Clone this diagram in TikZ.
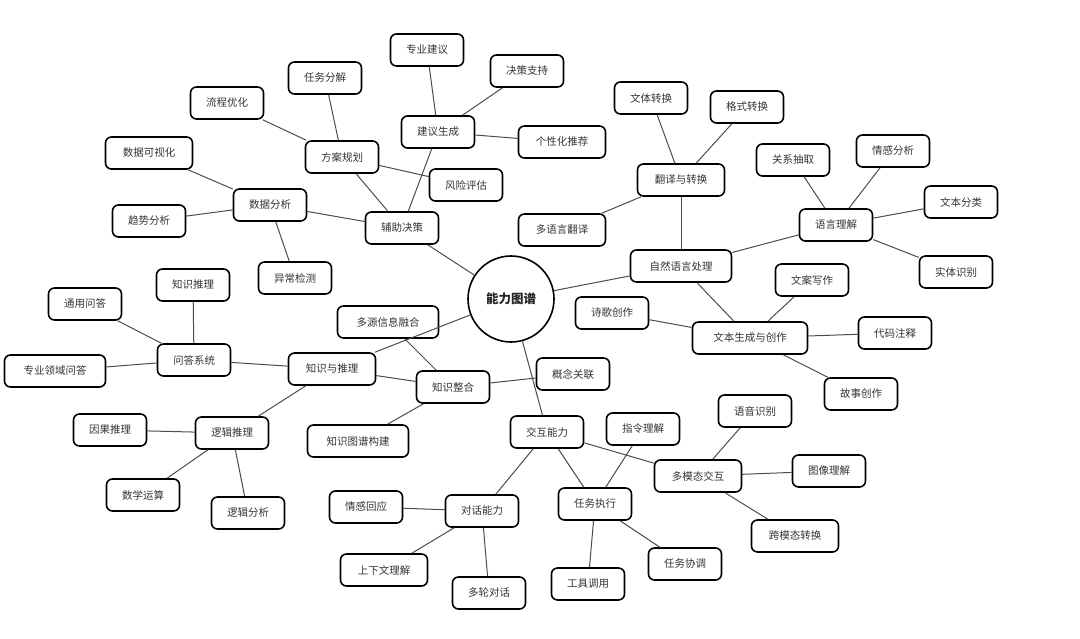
\documentclass[tikz,border=0pt]{standalone}
\usepackage{fontspec}
\newfontfamily\cjk{Noto Sans CJK SC}
\begin{document}
\begin{tikzpicture}[x=1pt,y=-1pt,
  box/.style={draw=black,line width=1.6pt,rounded corners=6pt,minimum height=32pt,inner xsep=2pt,inner ysep=0pt,text=black!80,font=\cjk\fontsize{10.5}{12}\selectfont,minimum width=73pt},
  w5/.style={minimum width=87pt},
  w6/.style={minimum width=101pt},
  w7/.style={minimum width=115pt},
  hub/.style={draw=black,line width=1.6pt,circle,minimum size=86pt,inner sep=0pt,text=black!85,font=\cjk\fontsize{12.5}{14}\selectfont\bfseries},
  link/.style={draw=black!70,line width=1pt}]
\useasboundingbox (0,0) rectangle (1080,639);
\node[hub] (root) at (511,299) {能力图谱};
% auxiliary decision
\node[box] (fz) at (402,228) {辅助决策};
\node[box] (sjfx) at (270,205) {数据分析};
\node[box,w5] (sjksh) at (149,153) {数据可视化};
\node[box] (qsfx) at (149,221) {趋势分析};
\node[box] (ycjc) at (295,278) {异常检测};
\node[box] (fagh) at (342,157) {方案规划};
\node[box] (lcyh) at (227,103) {流程优化};
\node[box] (rwfj) at (325,78) {任务分解};
\node[box] (fxpg) at (466,185) {风险评估};
\node[box] (jysc) at (438,132) {建议生成};
\node[box] (zyjy) at (427,50) {专业建议};
\node[box] (jczc) at (527,71) {决策支持};
\node[box,w5] (gxhtj) at (562,142) {个性化推荐};
% NLP
\node[box,w6] (nlp) at (681,266) {自然语言处理};
\node[box,w5] (fyzh) at (681,180) {翻译与转换};
\node[box] (wtzh) at (651,98) {文体转换};
\node[box] (gszh) at (747,107) {格式转换};
\node[box,w5] (dyyfy) at (562,230) {多语言翻译};
\node[box] (yylj) at (836,225) {语言理解};
\node[box] (gxcq) at (793,160) {关系抽取};
\node[box] (qgfx) at (893,151) {情感分析};
\node[box] (wbfl) at (961,202) {文本分类};
\node[box] (stsb) at (956,272) {实体识别};
\node[box,w7] (wbsc) at (750,338) {文本生成与创作};
\node[box] (sgcz) at (612,313) {诗歌创作};
\node[box] (waxz) at (812,280) {文案写作};
\node[box] (dmzs) at (895,333) {代码注释};
\node[box] (gscz) at (861,394) {故事创作};
% knowledge
\node[box,w5] (zsyl) at (332,369) {知识与推理};
\node[box] (wdxt) at (194,360) {问答系统};
\node[box] (zstl) at (193,285) {知识推理};
\node[box] (tywd) at (85,304) {通用问答};
\node[box,w6] (zylywd) at (55,371) {专业领域问答};
\node[box] (ljtl) at (232,433) {逻辑推理};
\node[box] (ygtl) at (110,430) {因果推理};
\node[box] (sxys) at (143,495) {数学运算};
\node[box] (ljfx) at (248,513) {逻辑分析};
\node[box] (zszh) at (453,387) {知识整合};
\node[box,w6] (dyxx) at (388,322) {多源信息融合};
\node[box] (gngl) at (573,374) {概念关联};
\node[box,w6] (zstp) at (358,441) {知识图谱构建};
% interaction
\node[box] (jhnl) at (547,432) {交互能力};
\node[box] (dhnl) at (482,511) {对话能力};
\node[box] (qghy) at (366,507) {情感回应};
\node[box,w5] (sxwlj) at (384,570) {上下文理解};
\node[box] (dldh) at (489,593) {多轮对话};
\node[box] (rwzx) at (595,504) {任务执行};
\node[box] (zllj) at (643,429) {指令理解};
\node[box] (gjdy) at (588,584) {工具调用};
\node[box] (rwxt) at (685,564) {任务协调};
\node[box,w5] (dmtjh) at (698,476) {多模态交互};
\node[box] (yysb) at (755,411) {语音识别};
\node[box] (txlj) at (829,471) {图像理解};
\node[box,w5] (kmtzh) at (795,536) {跨模态转换};
% links
\foreach \a/\b in {root/fz,root/nlp,root/zsyl,root/jhnl,
  fz/sjfx,fz/fagh,fz/jysc,
  sjfx/sjksh,sjfx/qsfx,sjfx/ycjc,
  fagh/lcyh,fagh/rwfj,fagh/fxpg,
  jysc/zyjy,jysc/jczc,jysc/gxhtj,
  nlp/fyzh,nlp/yylj,nlp/wbsc,
  fyzh/wtzh,fyzh/gszh,fyzh/dyyfy,
  yylj/gxcq,yylj/qgfx,yylj/wbfl,yylj/stsb,
  wbsc/sgcz,wbsc/waxz,wbsc/dmzs,wbsc/gscz,
  zsyl/wdxt,zsyl/ljtl,zsyl/zszh,
  wdxt/zstl,wdxt/tywd,wdxt/zylywd,
  ljtl/ygtl,ljtl/sxys,ljtl/ljfx,
  zszh/dyxx,zszh/gngl,zszh/zstp,
  jhnl/dhnl,jhnl/rwzx,jhnl/dmtjh,
  dhnl/qghy,dhnl/sxwlj,dhnl/dldh,
  rwzx/zllj,rwzx/gjdy,rwzx/rwxt,
  dmtjh/yysb,dmtjh/txlj,dmtjh/kmtzh}
  \draw[link] (\a) -- (\b);
\end{tikzpicture}
\end{document}
